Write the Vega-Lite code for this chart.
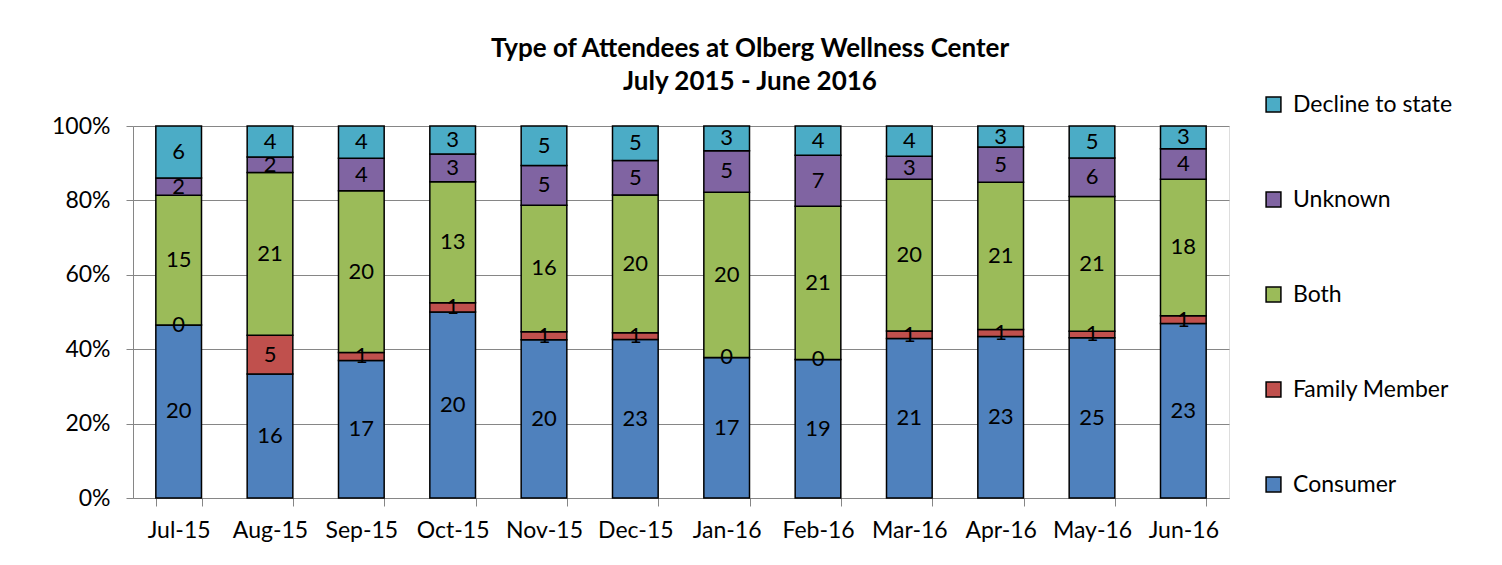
{
  "$schema": "https://vega.github.io/schema/vega-lite/v6.json",
  "width": 1096,
  "height": 372,
  "autosize": "none",
  "padding": {"left": 133, "top": 126, "right": 273, "bottom": 67},
  "background": "white",
  "title": {
    "text": ["Type of Attendees at Olberg Wellness Center", "July 2015 - June 2016"],
    "font": "Lato",
    "fontSize": 26,
    "fontWeight": "bold",
    "color": "black",
    "anchor": "middle",
    "dx": 69,
    "offset": -2,
    "lineHeight": 33
  },
  "data": {
    "values": [
      {"month": "Jul-15", "type": "Consumer", "count": 20, "ord": 1},
      {"month": "Jul-15", "type": "Family Member", "count": 0, "ord": 2},
      {"month": "Jul-15", "type": "Both", "count": 15, "ord": 3},
      {"month": "Jul-15", "type": "Unknown", "count": 2, "ord": 4},
      {"month": "Jul-15", "type": "Decline to state", "count": 6, "ord": 5},
      {"month": "Aug-15", "type": "Consumer", "count": 16, "ord": 1},
      {"month": "Aug-15", "type": "Family Member", "count": 5, "ord": 2},
      {"month": "Aug-15", "type": "Both", "count": 21, "ord": 3},
      {"month": "Aug-15", "type": "Unknown", "count": 2, "ord": 4},
      {"month": "Aug-15", "type": "Decline to state", "count": 4, "ord": 5},
      {"month": "Sep-15", "type": "Consumer", "count": 17, "ord": 1},
      {"month": "Sep-15", "type": "Family Member", "count": 1, "ord": 2},
      {"month": "Sep-15", "type": "Both", "count": 20, "ord": 3},
      {"month": "Sep-15", "type": "Unknown", "count": 4, "ord": 4},
      {"month": "Sep-15", "type": "Decline to state", "count": 4, "ord": 5},
      {"month": "Oct-15", "type": "Consumer", "count": 20, "ord": 1},
      {"month": "Oct-15", "type": "Family Member", "count": 1, "ord": 2},
      {"month": "Oct-15", "type": "Both", "count": 13, "ord": 3},
      {"month": "Oct-15", "type": "Unknown", "count": 3, "ord": 4},
      {"month": "Oct-15", "type": "Decline to state", "count": 3, "ord": 5},
      {"month": "Nov-15", "type": "Consumer", "count": 20, "ord": 1},
      {"month": "Nov-15", "type": "Family Member", "count": 1, "ord": 2},
      {"month": "Nov-15", "type": "Both", "count": 16, "ord": 3},
      {"month": "Nov-15", "type": "Unknown", "count": 5, "ord": 4},
      {"month": "Nov-15", "type": "Decline to state", "count": 5, "ord": 5},
      {"month": "Dec-15", "type": "Consumer", "count": 23, "ord": 1},
      {"month": "Dec-15", "type": "Family Member", "count": 1, "ord": 2},
      {"month": "Dec-15", "type": "Both", "count": 20, "ord": 3},
      {"month": "Dec-15", "type": "Unknown", "count": 5, "ord": 4},
      {"month": "Dec-15", "type": "Decline to state", "count": 5, "ord": 5},
      {"month": "Jan-16", "type": "Consumer", "count": 17, "ord": 1},
      {"month": "Jan-16", "type": "Family Member", "count": 0, "ord": 2},
      {"month": "Jan-16", "type": "Both", "count": 20, "ord": 3},
      {"month": "Jan-16", "type": "Unknown", "count": 5, "ord": 4},
      {"month": "Jan-16", "type": "Decline to state", "count": 3, "ord": 5},
      {"month": "Feb-16", "type": "Consumer", "count": 19, "ord": 1},
      {"month": "Feb-16", "type": "Family Member", "count": 0, "ord": 2},
      {"month": "Feb-16", "type": "Both", "count": 21, "ord": 3},
      {"month": "Feb-16", "type": "Unknown", "count": 7, "ord": 4},
      {"month": "Feb-16", "type": "Decline to state", "count": 4, "ord": 5},
      {"month": "Mar-16", "type": "Consumer", "count": 21, "ord": 1},
      {"month": "Mar-16", "type": "Family Member", "count": 1, "ord": 2},
      {"month": "Mar-16", "type": "Both", "count": 20, "ord": 3},
      {"month": "Mar-16", "type": "Unknown", "count": 3, "ord": 4},
      {"month": "Mar-16", "type": "Decline to state", "count": 4, "ord": 5},
      {"month": "Apr-16", "type": "Consumer", "count": 23, "ord": 1},
      {"month": "Apr-16", "type": "Family Member", "count": 1, "ord": 2},
      {"month": "Apr-16", "type": "Both", "count": 21, "ord": 3},
      {"month": "Apr-16", "type": "Unknown", "count": 5, "ord": 4},
      {"month": "Apr-16", "type": "Decline to state", "count": 3, "ord": 5},
      {"month": "May-16", "type": "Consumer", "count": 25, "ord": 1},
      {"month": "May-16", "type": "Family Member", "count": 1, "ord": 2},
      {"month": "May-16", "type": "Both", "count": 21, "ord": 3},
      {"month": "May-16", "type": "Unknown", "count": 6, "ord": 4},
      {"month": "May-16", "type": "Decline to state", "count": 5, "ord": 5},
      {"month": "Jun-16", "type": "Consumer", "count": 23, "ord": 1},
      {"month": "Jun-16", "type": "Family Member", "count": 1, "ord": 2},
      {"month": "Jun-16", "type": "Both", "count": 18, "ord": 3},
      {"month": "Jun-16", "type": "Unknown", "count": 4, "ord": 4},
      {"month": "Jun-16", "type": "Decline to state", "count": 3, "ord": 5}
    ]
  },
  "encoding": {
    "x": {
      "field": "month",
      "type": "nominal",
      "sort": ["Jul-15","Aug-15","Sep-15","Oct-15","Nov-15","Dec-15","Jan-16","Feb-16","Mar-16","Apr-16","May-16","Jun-16"],
      "scale": {"paddingInner": 0.5, "paddingOuter": 0.25},
      "axis": {
        "title": null,
        "labelAngle": 0,
        "labelFont": "Lato",
        "labelFontSize": 23,
        "labelColor": "black",
        "labelPadding": 13,
        "tickBand": "extent",
        "tickColor": "#868686",
        "tickSize": 8,
        "domainColor": "#868686",
        "domainWidth": 1,
        "grid": false
      }
    },
    "y": {
      "field": "count",
      "type": "quantitative",
      "stack": "normalize",
      "scale": {"domain": [0, 1]},
      "axis": {
        "title": null,
        "format": ".0%",
        "values": [0, 0.2, 0.4, 0.6, 0.8, 1],
        "labelFont": "Lato",
        "labelFontSize": 23,
        "labelColor": "black",
        "labelPadding": 16,
        "tickColor": "#868686",
        "tickSize": 7,
        "domainColor": "#868686",
        "gridColor": "#868686",
        "gridWidth": 1.2
      }
    },
    "order": {"field": "ord", "type": "quantitative", "sort": "ascending"}
  },
  "layer": [
    {
      "mark": {"type": "bar", "stroke": "black", "strokeWidth": 1.5},
      "encoding": {
        "color": {
          "field": "type",
          "type": "nominal",
          "scale": {
            "domain": ["Decline to state", "Unknown", "Both", "Family Member", "Consumer"],
            "range": ["#4BACC6", "#8064A2", "#9BBB59", "#C0504D", "#4F81BD"]
          },
          "legend": {
            "title": null,
            "orient": "none",
            "legendX": 1129,
            "legendY": -33,
            "symbolType": "square",
            "symbolSize": 220,
            "symbolStrokeColor": "black",
            "symbolStrokeWidth": 1.5,
            "symbolOpacity": 1,
            "labelFont": "Lato",
            "labelFontSize": 23,
            "labelColor": "black",
            "labelOffset": 8,
            "rowPadding": 71
          }
        }
      }
    },
    {
      "mark": {"type": "text", "font": "Lato", "fontSize": 22, "color": "black", "baseline": "middle"},
      "encoding": {
        "y": {"field": "count", "type": "quantitative", "stack": "normalize", "bandPosition": 0.5},
        "text": {"field": "count", "type": "quantitative"}
      }
    }
  ]
}
